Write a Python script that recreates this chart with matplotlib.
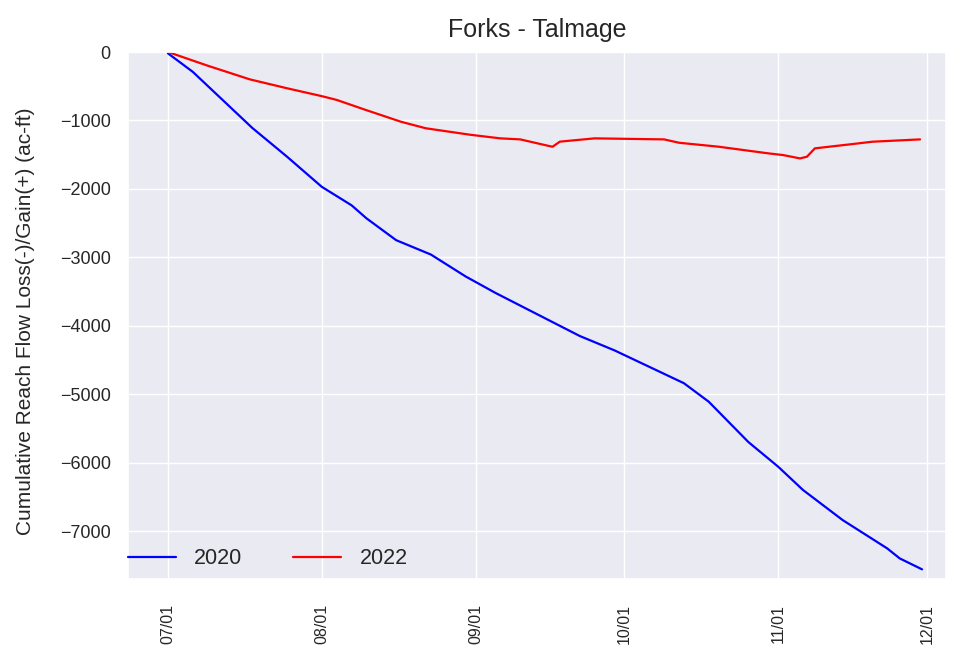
import matplotlib
matplotlib.use("Agg")
import matplotlib.pyplot as plt
import matplotlib.dates as mdates
import seaborn as sns
import numpy as np
import datetime as dt

# ---- data ----
days_2020 = [0, 5, 17, 24, 31, 37, 40, 46, 53, 60, 66, 83, 90, 104, 109, 117, 123, 128, 136, 145, 147.5, 152]
vals_2020 = [-20, -290, -1110, -1530, -1970, -2240, -2430, -2750, -2960, -3280, -3520, -4150, -4360,
             -4840, -5110, -5700, -6060, -6400, -6840, -7255, -7400, -7560]

days_2022 = [0, 8, 16.5, 24, 31, 34, 40, 47, 52, 61, 67, 71, 77.5, 79, 86, 100, 103, 111, 121, 124, 127.4,
             128.8, 130.4, 138, 142, 151.6]
vals_2022 = [0, -200, -400, -530, -645, -700, -850, -1020, -1115, -1210, -1262, -1277, -1385, -1310,
             -1262, -1277, -1326, -1384, -1481, -1506, -1555, -1530, -1408, -1345, -1311, -1277]

series_labels = ["2020", "2022"]
series_colors = ["blue", "red"]
tick_months = [7, 8, 9, 10, 11, 12]
title = "Forks - Talmage"
ylabel = "Cumulative Reach Flow Loss(-)/Gain(+) (ac-ft)"

sns.set_theme(style="darkgrid")
plt.rcParams['font.family'] = ['Liberation Sans', 'DejaVu Sans']

base = dt.datetime(2022, 7, 1)
def to_dates(days):
    return [base + dt.timedelta(days=float(d)) for d in days]

fig = plt.figure(figsize=(9.56, 6.47), dpi=100)
ax = fig.add_axes([128/956, 1 - 579/647, (946 - 128)/956, (579 - 52)/647])

ax.plot(to_dates(days_2020), vals_2020, color=series_colors[0], lw=1.6, label=series_labels[0])
ax.plot(to_dates(days_2022), vals_2022, color=series_colors[1], lw=1.6, label=series_labels[1])

ax.set_xlim(base - dt.timedelta(days=8.06), dt.datetime(2022, 12, 1) + dt.timedelta(days=3.83))
ax.set_ylim(-7701, 0)
ax.set_yticks([0, -1000, -2000, -3000, -4000, -5000, -6000, -7000])
ax.set_xticks([dt.datetime(2022, m, 1) for m in tick_months])
ax.xaxis.set_major_formatter(mdates.DateFormatter("%m/%d"))

ax.tick_params(axis='both', length=0)
ax.tick_params(axis='y', labelsize=13, pad=12.5)
ax.tick_params(axis='x', labelsize=11.5, pad=18, labelrotation=90)

ax.set_title(title, fontsize=18, pad=11)
ax.set_ylabel(ylabel, fontsize=15)
ax.yaxis.set_label_coords(-0.114, 0.49)

ax.legend(loc='center left', bbox_to_anchor=(0, 20/527), ncol=2, frameon=False, fontsize=15.5,
          borderpad=0, borderaxespad=0, handlelength=2.23, handletextpad=0.84, columnspacing=2.37)

fig.savefig("out.png", dpi=100)
